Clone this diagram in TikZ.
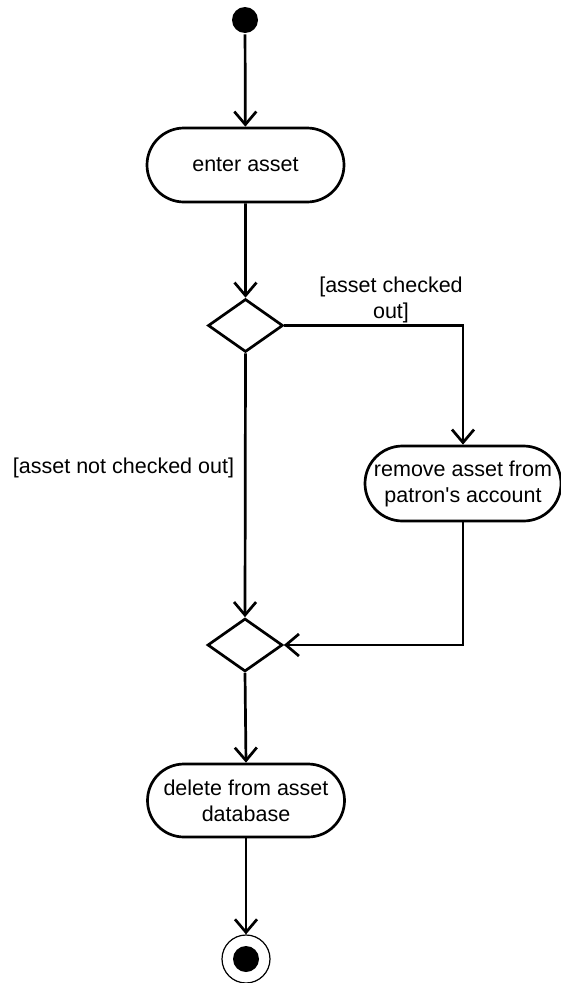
\documentclass[tikz,border=0pt]{standalone}
\usepackage{fontspec}
\setmainfont{Liberation Sans}
\usetikzlibrary{arrows.meta,shapes.geometric,shapes.misc}
\begin{document}
\begin{tikzpicture}[x=1pt,y=-1pt,
  line width=2.7pt,
  every node/.style={font=\fontsize{21.5}{26}\selectfont},
  action/.style={draw,rounded rectangle,minimum width=197pt,minimum height=74pt,align=center,inner sep=0pt},
  decision/.style={draw,diamond,minimum width=75pt,minimum height=53pt,inner sep=0pt,aspect=1.4},
  flow/.style={-{Straight Barb[length=13pt,width=22pt,line width=2.7pt]}},
  guard/.style={align=center,inner sep=0pt}]
\useasboundingbox (0,0) rectangle (561,983);
% start and end markers
\node[circle,fill,minimum size=26pt,inner sep=0pt] (start) at (245,20) {};
\node[circle,draw,line width=1.2pt,minimum size=48pt,inner sep=0pt] (finish) at (246,959) {};
\fill (finish.center) circle (13pt);
% actions
\node[action] (enter) at (245.5,165) {enter asset};
\node[action,minimum width=196pt,minimum height=75pt] (remove) at (463,483.5) {remove asset from\\patron\textquotesingle s account};
\node[action,minimum height=73pt] (delete) at (246,800.5) {delete from asset\\database};
% decisions
\node[decision] (d1) at (245.5,325.5) {};
\node[decision] (d2) at (245,645) {};
% bends of the right branch
\coordinate (c1) at (463,325.5);
\coordinate (c2) at (463,645);
% connectors
\draw[flow] (start) -- (enter);
\draw[flow] (enter) -- (d1);
\draw[flow] (d1.east) -- (c1) -- (remove.north);
\draw[flow] (d1.south) -- (d2.north);
\draw[flow] (remove.south) -- (c2) -- (d2.east);
\draw[flow] (d2.south) -- (delete.north);
\draw[flow] (delete.south) -- (finish.north);
% guards
\node[guard] (g1) at (391,299.5) {[asset checked\\out]};
\node[guard] (g2) at (123.5,468) {[asset not checked out]};
\end{tikzpicture}
\end{document}
